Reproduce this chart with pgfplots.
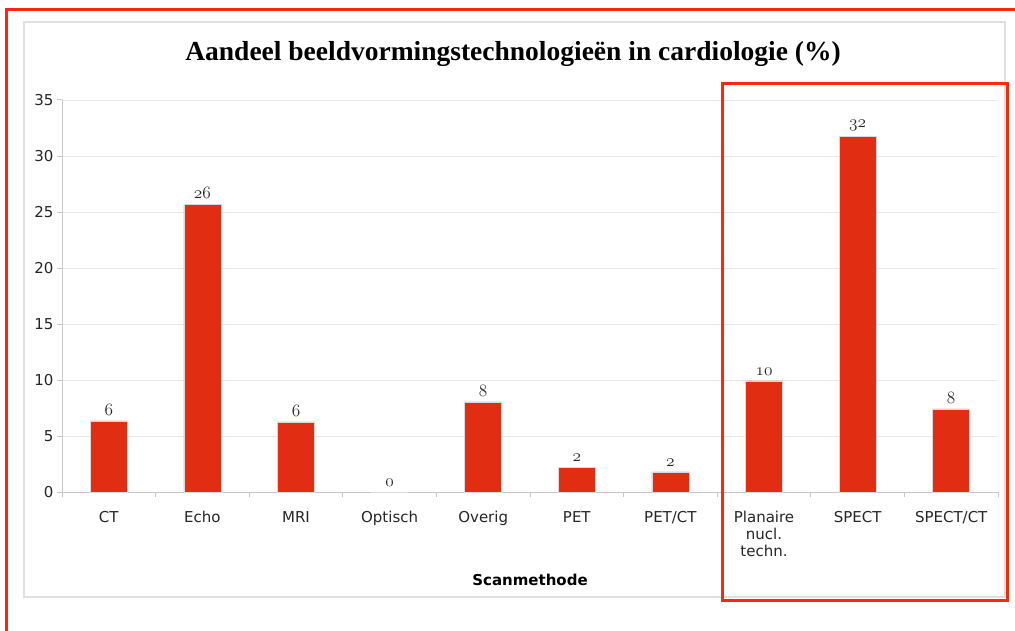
\documentclass[border=0pt]{standalone}
\usepackage{pgfplots}
\pgfplotsset{compat=1.18}
\usepackage{fontspec}
\newfontfamily\dejavu{DejaVu Sans}
\newfontfamily\titlefont{Liberation Serif}
\definecolor{barred}{RGB}{225,45,17}
\definecolor{framered}{RGB}{252,40,12}
\begin{document}
\begin{tikzpicture}[x=1pt,y=1pt]
\path[use as bounding box, fill=white] (0,0) rectangle (1015,631);
\draw[framered, line width=3pt] (6.5,0) -- (6.5,621.5) -- (1015,621.5);
\draw[black!12, line width=1.5pt] (24,34) rectangle (1005,609);
\node[font=\titlefont\bfseries\fontsize{27.5}{30}\selectfont] at (513,577) {Aandeel beeldvormingstechnologieën in cardiologie (\%)};
\begin{axis}[
  at={(62pt,138.5pt)}, anchor=south west,
  scale only axis, width=936pt, height=392.5pt,
  xmin=-0.5, xmax=9.5, ymin=0, ymax=35,
  ybar, bar width=37pt,
  axis x line*=bottom, axis y line*=left,
  axis line style={black!22, line width=1pt},
  ymajorgrids, grid style={black!9, line width=0.8pt},
  tick align=outside, major tick length=5pt, minor tick length=5pt,
  tick style={black!22, line width=1pt},
  ytick={0,5,...,35},
  /pgf/number format/assume math mode=true,
  yticklabel style={font=\dejavu\fontsize{15}{17}\selectfont, text=black!85},
  xtick={0,1,...,9},
  xticklabels={CT,Echo,MRI,Optisch,Overig,PET,PET/CT,{Planaire\\nucl.\\techn.},SPECT,SPECT/CT},
  major x tick style={draw=none},
  minor xtick={-0.5,0.5,...,9.5},
  xticklabel style={font=\dejavu\fontsize{15}{17}\selectfont, text=black!85, align=center, anchor=north, yshift=-10pt, execute at begin node={\vphantom{Eh}}},
  xlabel={Scanmethode},
  xlabel style={font=\dejavu\bfseries\fontsize{15}{17}\selectfont, at={(axis description cs:0.5,-0.222)}, anchor=center},
  nodes near coords={$\mathnormal{\pgfplotspointmeta}$},
  point meta=explicit symbolic,
  every node near coord/.append style={font=\fontsize{16}{16}\selectfont, text=black!85, anchor=south, yshift=2pt},
]
\addplot[fill=barred, draw=black!15, line width=0.5pt] coordinates {
 (0,6.38) [6]
 (1,25.7) [26]
 (2,6.3) [6]
 (3,0) [0]
 (4,8.07) [8]
 (5,2.27) [2]
 (6,1.83) [2]
 (7,9.95) [10]
 (8,31.74) [32]
 (9,7.45) [8]
};
\end{axis}
\draw[framered, line width=3pt] (722,547) rectangle (1007,30);
\end{tikzpicture}
\end{document}
